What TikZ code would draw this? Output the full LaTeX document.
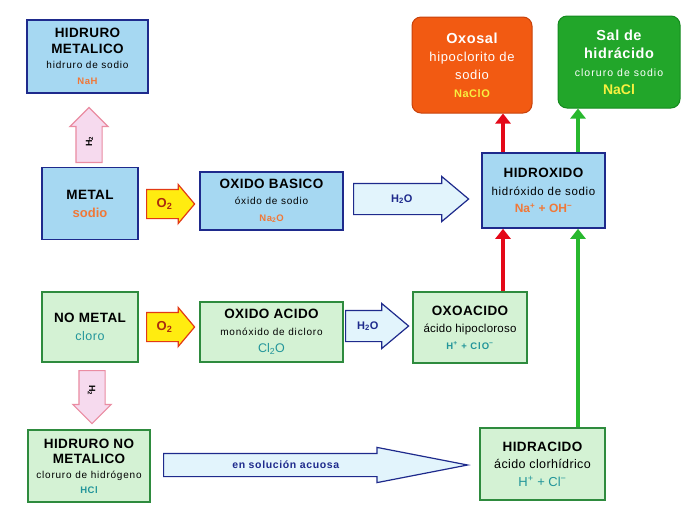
\documentclass[tikz,border=0pt]{standalone}
\usepackage{fontspec}
\setmainfont{Liberation Sans}
\usepackage{xcolor}
\usetikzlibrary{shapes.arrows, arrows.meta, positioning}

\definecolor{metalline}{HTML}{1E2A8C}
\definecolor{metalfill}{HTML}{A6D8F2}
\definecolor{nometalline}{HTML}{2E8B3E}
\definecolor{nometalfill}{HTML}{D4F2D4}
\definecolor{saltorange}{HTML}{F25A12}
\definecolor{saltorangeline}{HTML}{C8420C}
\definecolor{saltgreen}{HTML}{22A62A}
\definecolor{saltgreenline}{HTML}{148A1E}
\definecolor{textorange}{HTML}{F07838}
\definecolor{textteal}{HTML}{22959A}
\definecolor{textyellow}{HTML}{F8F040}
\definecolor{pinkfill}{HTML}{F6DAEE}
\definecolor{pinkline}{HTML}{EA8CA2}
\definecolor{oxyfill}{HTML}{FFEC10}
\definecolor{oxyline}{HTML}{E23A14}
\definecolor{waterfill}{HTML}{E2F4FC}
\definecolor{linkred}{HTML}{E40818}
\definecolor{linkgreen}{HTML}{28B82E}

\newcommand{\titlefont}{\bfseries\fontsize{13.5}{16}\selectfont\addfontfeatures{LetterSpace=3}}
\newcommand{\namefont}{\fontsize{10}{15}\selectfont\addfontfeatures{LetterSpace=8}}
\newcommand{\bignamefont}{\fontsize{11.5}{16}\selectfont\addfontfeatures{LetterSpace=6}}
\newcommand{\formulafont}{\bfseries\fontsize{9.5}{15}\selectfont\addfontfeatures{LetterSpace=6}}
\newcommand{\saltfont}{\bfseries\fontsize{14.5}{18}\selectfont\addfontfeatures{LetterSpace=4}}

\begin{document}
\begin{tikzpicture}[x=1pt, y=-1pt,
  linegap/.style={font=\fontsize{10}{#1}\selectfont},
  chembox/.style={draw, line width=1.6pt, align=center, inner sep=2pt, linegap=16pt},
  metalbox/.style={chembox, draw=metalline, fill=metalfill},
  nometalbox/.style={chembox, draw=nometalline, fill=nometalfill},
  saltbox/.style={chembox, rounded corners=9pt, text=white, line width=1pt, linegap=18pt},
  fatarrow/.style={single arrow, draw, line width=1.2pt, inner xsep=2pt,
    text height=9pt, text depth=3pt, anchor=tail,
    font=\bfseries\fontsize{11}{11}\selectfont},
  oxyarrow/.style={fatarrow, fill=oxyfill, draw=oxyline, text=oxyline!75!black,
    inner ysep=8pt, minimum height=48pt, single arrow head extend=5pt,
    single arrow tip angle=100, font=\bfseries\fontsize{13}{13}\selectfont},
  waterarrow/.style={fatarrow, fill=waterfill, draw=metalline, text=metalline,
    inner ysep=9pt, single arrow head extend=7pt, single arrow tip angle=80},
  hydroarrow/.style={fatarrow, fill=pinkfill, draw=pinkline, text=black,
    inner ysep=6.5pt, single arrow head extend=6pt, single arrow tip angle=90,
    font=\bfseries\fontsize{9}{9}\selectfont},
  redlink/.style={draw=linkred, line width=4.5pt, -{Triangle[width=15pt,length=10pt]}},
  greenlink/.style={draw=linkgreen, line width=4.5pt, -{Triangle[width=15pt,length=10pt]}}
]
\useasboundingbox (0,0) rectangle (690,531);

% metal row
\node[metalbox, linegap=15.5pt, minimum width=121pt, minimum height=73pt] (hidmet) at (87.5,56.5)
  {\titlefont HIDRURO\\\titlefont METALICO\\\namefont hidruro de sodio\\
   \formulafont\color{textorange}NaH};
\node[metalbox, linegap=18pt, minimum width=96pt, minimum height=72pt] (metal) at (90,203.5)
  {\titlefont METAL\\\bfseries\fontsize{13}{17}\selectfont\color{textorange}sodio};
\node[metalbox, linegap=16.5pt, minimum width=143pt, minimum height=58pt] (oxbas) at (271.5,201)
  {\titlefont OXIDO BASICO\\\namefont óxido de sodio\\
   \formulafont\color{textorange}Na\textsubscript{2}O};
\node[metalbox, linegap=17.5pt, minimum width=123pt, minimum height=75pt] (hidrox) at (543.5,190.5)
  {\titlefont HIDROXIDO\\\bignamefont hidróxido de sodio\\
   \bfseries\fontsize{12}{16}\selectfont\color{textorange}Na\textsuperscript{+} + OH\textsuperscript{−}};

% salts
\node[saltbox, fill=saltorange, draw=saltorangeline, minimum width=120pt, minimum height=96pt] (oxosal) at (472,65)
  {\saltfont Oxosal\\\fontsize{13}{17}\selectfont\addfontfeatures{LetterSpace=5}hipoclorito de\\
   \fontsize{13}{17}\selectfont\addfontfeatures{LetterSpace=5}sodio\\
   \bfseries\fontsize{11}{15}\selectfont\addfontfeatures{LetterSpace=5}\color{textyellow}NaClO};
\node[saltbox, fill=saltgreen, draw=saltgreenline, minimum width=122pt, minimum height=92pt] (sal) at (619,62)
  {\saltfont Sal de\\\saltfont hidrácido\\
   \fontsize{10.5}{15}\selectfont\addfontfeatures{LetterSpace=10}cloruro de sodio\\
   \bfseries\fontsize{14}{16}\selectfont\color{textyellow}NaCl};

% no metal row
\node[nometalbox, linegap=18pt, minimum width=96pt, minimum height=70pt] (nometal) at (90,327)
  {\titlefont NO METAL\\\fontsize{12.5}{17}\selectfont\addfontfeatures{LetterSpace=4}\color{textteal}cloro};
\node[nometalbox, linegap=17pt, minimum width=143pt, minimum height=60pt] (oxac) at (271.5,332)
  {\titlefont OXIDO ACIDO\\\namefont monóxido de dicloro\\
   \fontsize{12.5}{16}\selectfont\color{textteal}Cl\textsubscript{2}O};
\node[nometalbox, linegap=17pt, minimum width=114pt, minimum height=71pt] (oxoac) at (470,327.5)
  {\titlefont OXOACIDO\\\fontsize{11.5}{16}\selectfont\addfontfeatures{LetterSpace=2}ácido hipocloroso\\
   \formulafont\addfontfeatures{LetterSpace=10}\color{textteal}H\textsuperscript{+} + ClO\textsuperscript{−}};
\node[nometalbox, linegap=15pt, minimum width=122pt, minimum height=72pt] (hidnomet) at (89,466)
  {\titlefont HIDRURO NO\\\titlefont METALICO\\\namefont cloruro de hidrógeno\\
   \formulafont\color{textteal}HCl};
\node[nometalbox, linegap=17.5pt, minimum width=125pt, minimum height=72pt] (hidrac) at (542.5,464)
  {\titlefont HIDRACIDO\\\fontsize{12.5}{17}\selectfont\addfontfeatures{LetterSpace=3}ácido clorhídrico\\
   \fontsize{13}{17}\selectfont\color{textteal}H\textsuperscript{+} + Cl\textsuperscript{−}};

% block arrows
\node[hydroarrow, rotate=90, minimum height=55pt] (hup) at (89,163) {H\textsubscript{2}};
\node[hydroarrow, rotate=-90, minimum height=53pt] (hdown) at (92,370) {H\textsubscript{2}};
\node[oxyarrow] (oxya) at (146,204) {O\textsubscript{2}};
\node[oxyarrow] (oxyb) at (146,327) {O\textsubscript{2}};
\node[waterarrow, minimum height=115pt] (watera) at (353,199) {H\textsubscript{2}O};
\node[waterarrow, minimum height=63pt] (waterb) at (345,326) {H\textsubscript{2}O};
\node[fatarrow, fill=waterfill, draw=metalline, text=metalline, inner ysep=5pt,
  minimum height=304pt, single arrow head extend=6pt, single arrow tip angle=22,
  font=\bfseries\fontsize{10.5}{10.5}\selectfont\addfontfeatures{LetterSpace=6}] (solution) at (163,465) {en solución acuosa};

% links to the salts
\coordinate (redx) at (503,0);
\coordinate (greenx) at (578,0);
\draw[redlink] (redx |- oxoac.north) -- (redx |- hidrox.south);
\draw[redlink] (redx |- hidrox.north) -- (redx |- oxosal.south);
\draw[greenlink] (greenx |- hidrac.north) -- (greenx |- hidrox.south);
\draw[greenlink] (greenx |- hidrox.north) -- (greenx |- sal.south);
\end{tikzpicture}
\end{document}
